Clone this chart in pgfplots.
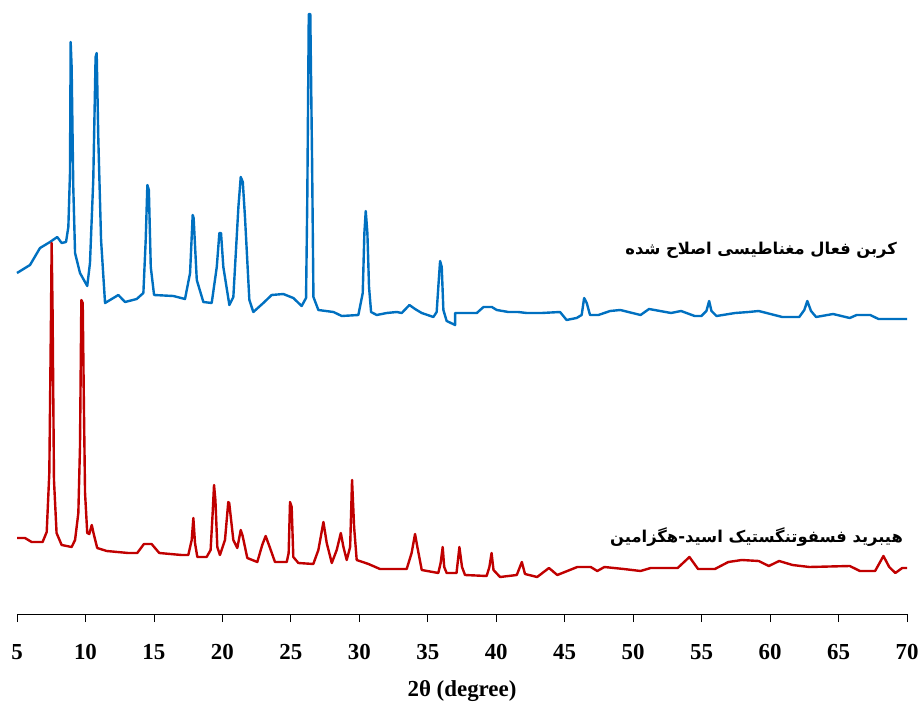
\documentclass[border=0pt]{standalone}
\usepackage{pgfplots}
\pgfplotsset{compat=1.18}
\usepackage{fontspec}
\setmainfont{Liberation Serif}
\newfontfamily\arabicfont[Script=Arabic]{DejaVu Sans}
\TeXXeTstate=1
\definecolor{xblue}{HTML}{0070C0}
\definecolor{xred}{HTML}{C00000}
\begin{document}
\begin{tikzpicture}
\begin{axis}[
  scale only axis, width=890bp, height=600bp,
  xmin=5, xmax=70, ymin=0, ymax=600,
  axis x line*=bottom, hide y axis, clip=false,
  xtick={5,10,...,70},
  tick align=outside, major tick length=8bp,
  x axis line style={black, line width=0.8bp, -},
  xtick style={black, line width=0.8bp},
  /pgf/number format/assume math mode=true,
  xticklabel style={font=\bfseries\fontsize{23}{23}\selectfont, yshift=-19bp},
  xlabel={2θ (degree)},
  xlabel style={font=\bfseries\fontsize{23}{23}\selectfont, yshift=-14bp},
  every axis plot/.append style={line width=2.4bp, line join=round, no marks},
]
\addplot[xblue] coordinates {
(5,341) (5.95,349) (6.68,366) (7.41,372) (7.94,377) (8.26,371) (8.58,372) (8.75,387) (8.87,441) (8.92,572) (8.99,547) (9.11,427) (9.24,361) (9.60,341) (10.13,328) (10.33,351) (10.57,434) (10.74,557) (10.82,561) (10.94,474) (11.14,374) (11.43,311) (12.40,319) (12.89,312) (13.74,315) (14.23,321) (14.40,374) (14.52,429) (14.63,424) (14.77,347) (15.01,319) (16.42,318) (17.27,315) (17.64,341) (17.83,399) (17.90,396) (18.13,334) (18.61,312) (19.22,311) (19.59,347) (19.78,381) (19.90,381) (20.07,347) (20.51,309) (20.80,317) (21.17,407) (21.34,437) (21.49,432) (21.65,397) (21.97,314) (22.26,302) (22.99,311) (23.60,319) (24.45,320) (25.18,316) (25.79,308) (26.11,316) (26.20,414) (26.31,600) (26.42,600) (26.55,454) (26.65,317) (27.01,304) (28.11,302) (28.72,298) (29.93,299) (30.25,321) (30.37,381) (30.47,403) (30.59,381) (30.71,327) (30.86,302) (31.27,299) (32.0,301) (32.73,302) (33.10,301) (33.66,309) (34.07,305) (34.56,301) (35.41,297) (35.65,302) (35.77,327) (35.90,353) (36.02,347) (36.14,304) (36.38,293) (37.0,289) (37.0,301) (38.58,301) (39.07,307) (39.68,307) (40.04,304) (40.89,302) (41.6,302) (42.22,301) (43.32,301) (44.66,302) (45.14,294) (45.87,296) (46.24,299) (46.42,316) (46.61,311) (46.85,299) (47.46,299) (48.32,303) (49.06,304) (50.54,299) (51.16,305) (52.77,301) (53.5,303) (54.49,298) (54.98,298) (55.35,303) (55.55,313) (55.72,303) (56.09,298) (57.45,301) (58.43,302) (59.17,303) (60.89,297) (62.13,297) (62.50,304) (62.72,313) (62.99,303) (63.36,297) (64.60,300) (65.82,296) (66.32,299) (67.31,299) (67.92,295) (70,295)
};
\addplot[xred] coordinates {
(5,76) (5.58,76) (6.07,72) (6.87,72) (7.17,82) (7.36,141) (7.48,294) (7.53,371) (7.60,301) (7.70,134) (7.89,81) (8.26,69) (8.99,67) (9.24,74) (9.48,101) (9.60,167) (9.70,314) (9.80,311) (9.89,204) (9.97,121) (10.13,81) (10.28,80) (10.46,89) (10.62,79) (10.86,66) (11.55,63) (13.12,61) (13.78,61) (14.27,70) (14.83,70) (15.39,61) (17.02,59) (17.51,59) (17.76,74) (17.88,96) (18.0,71) (18.17,57) (18.85,57) (19.14,64) (19.29,101) (19.39,129) (19.49,114) (19.63,67) (19.82,59) (20.19,74) (20.43,112) (20.5,111) (20.80,74) (21.09,66) (21.34,84) (21.48,78) (21.82,56) (22.55,52) (22.91,69) (23.16,78) (23.48,66) (23.84,52) (24.70,52) (24.84,61) (24.94,112) (25.06,107) (25.18,57) (25.55,51) (26.64,50) (27.01,64) (27.38,92) (27.62,71) (27.99,51) (28.35,64) (28.65,81) (28.84,67) (29.08,54) (29.33,67) (29.47,134) (29.62,87) (29.81,54) (30.67,50) (31.51,45) (33.46,45) (33.82,61) (34.07,80) (34.24,67) (34.56,44) (35.77,41) (35.94,51) (36.09,67) (36.2,47) (36.38,41) (37.1,41) (37.31,67) (37.5,47) (37.72,39) (39.30,38) (39.5,47) (39.66,61) (39.8,44) (40.28,37) (41.50,39) (41.87,52) (42.1,40) (42.99,37) (43.85,46) (44.46,39) (45.92,47) (46.9,47) (47.38,43) (47.9,47) (49.31,45) (50.54,43) (51.28,46) (53.25,46) (54.11,57) (54.74,45) (55.97,45) (56.95,52) (57.94,54) (59.17,53) (59.91,48) (60.66,53) (61.64,49) (62.87,47) (65.82,48) (66.56,43) (67.67,43) (68.28,58) (68.7,47) (69.15,41) (69.65,46) (70,46)
};
\node[anchor=east, inner sep=0pt, font=\arabicfont\bfseries\fontsize{16.4}{20}\selectfont] at (axis cs:69.28,364) {\beginR کربن فعال مغناطیسی اصلاح شده\endR};
\node[anchor=east, inner sep=0pt, font=\arabicfont\bfseries\fontsize{16.4}{20}\selectfont] at (axis cs:69.72,77) {\beginR هیبرید فسفوتنگستیک اسید-هگزامین\endR};
\end{axis}
\pgfresetboundingbox
\path (-17bp,-92bp) rectangle (907bp,614bp);
\end{tikzpicture}
\end{document}
